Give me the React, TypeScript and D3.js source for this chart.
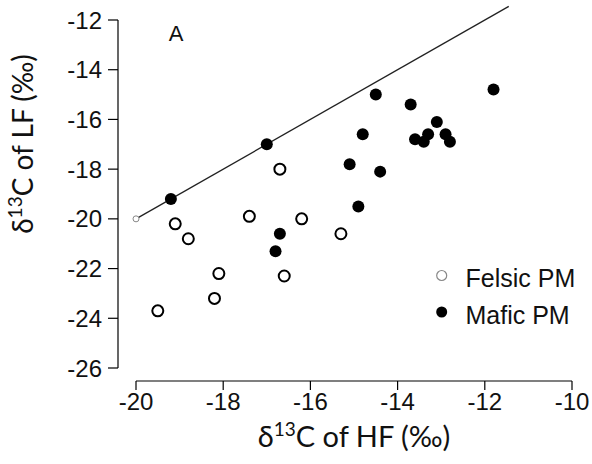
import React from "react";
import * as d3 from "d3";

const felsicHF = [-16.7, -19.1, -18.8, -17.4, -16.2, -15.3, -18.1, -18.2, -16.6, -19.5];
const felsicLF = [-18.0, -20.2, -20.8, -19.9, -20.0, -20.6, -22.2, -23.2, -22.3, -23.7];

const maficHF = [-19.2, -17.0, -14.5, -13.7, -11.8, -14.8, -13.1, -13.6, -13.3, -13.4, -12.9, -12.8, -15.1, -14.4, -14.9, -16.7, -16.8];
const maficLF = [-19.2, -17.0, -15.0, -15.4, -14.8, -16.6, -16.1, -16.8, -16.6, -16.9, -16.6, -16.9, -17.8, -18.1, -19.5, -20.6, -21.3];

const xTicks = [-20, -18, -16, -14, -12, -10];
const yTicks = [-12, -14, -16, -18, -20, -22, -24, -26];
const lineEnds = [-20, -11.45];
const legendLabels = ["Felsic PM", "Mafic PM"];

const W = 592;
const H = 464;

export default function App() {
  const x = d3.scaleLinear().domain([-20, -10]).range([136, 572]);
  const y = d3.scaleLinear().domain([-12, -26]).range([20, 368]);
  const axisY = 381;
  const axisX = 118;
  const tickFont = "'Liberation Sans', Arial, sans-serif";
  const labelFont = "Lato, 'Open Sans', sans-serif";
  const lineGen = d3.line<number>().x((d) => x(d)).y((d) => y(d));

  return (
    <svg width={W} height={H} style={{ position: "absolute", left: 0, top: 0, background: "#fff" }}>
      {/* y axis */}
      <line x1={axisX} x2={axisX} y1={y(-12)} y2={y(-26)} stroke="#000" strokeWidth={1.2} />
      {yTicks.map((t) => (
        <g key={"yt" + t}>
          <line x1={axisX - 10} x2={axisX} y1={y(t)} y2={y(t)} stroke="#000" strokeWidth={1.2} />
          <text x={102} y={y(t)} dy="0.36em" textAnchor="end" fontFamily={tickFont} fontSize={24} fill="#111">
            {t}
          </text>
        </g>
      ))}
      {/* x axis */}
      <line x1={x(-20)} x2={x(-10)} y1={axisY} y2={axisY} stroke="#000" strokeWidth={1.2} />
      {xTicks.map((t) => (
        <g key={"xt" + t}>
          <line x1={x(t)} x2={x(t)} y1={axisY} y2={axisY + 9} stroke="#000" strokeWidth={1.2} />
          <text x={x(t)} y={409.5} textAnchor="middle" fontFamily={tickFont} fontSize={24} fill="#111">
            {t}
          </text>
        </g>
      ))}
      {/* 1:1 line */}
      <path d={lineGen(lineEnds) || ""} stroke="#222" strokeWidth={1.3} fill="none" />
      <circle cx={x(-20)} cy={y(-20)} r={3} fill="#fff" stroke="#888" strokeWidth={1} />
      {/* felsic */}
      {felsicHF.map((v, i) => (
        <circle key={"f" + i} cx={x(v)} cy={y(felsicLF[i])} r={5.5} fill="#fff" stroke="#000" strokeWidth={2} />
      ))}
      {/* mafic */}
      {maficHF.map((v, i) => (
        <circle key={"m" + i} cx={x(v)} cy={y(maficLF[i])} r={6} fill="#000" />
      ))}
      {/* panel label */}
      <text x={176} y={41} textAnchor="middle" fontFamily={tickFont} fontSize={22} fill="#111">
        A
      </text>
      {/* legend */}
      <circle cx={441.7} cy={275.5} r={5} fill="#fff" stroke="#888" strokeWidth={1.2} />
      <text x={465.5} y={286.7} fontFamily={tickFont} fontSize={25} fill="#111">
        {legendLabels[0]}
      </text>
      <circle cx={441.7} cy={312} r={5.5} fill="#000" />
      <text x={465.5} y={324} fontFamily={tickFont} fontSize={25} fill="#111">
        {legendLabels[1]}
      </text>
      {/* axis titles */}
      <text x={354} y={447} textAnchor="middle" fontFamily={labelFont} fontSize={29} fill="#111">
        δ<tspan fontSize={19} dy={-11}>13</tspan>
        <tspan dy={11}>C of HF (‰)</tspan>
      </text>
      <text
        transform="translate(33,144) rotate(-90)"
        textAnchor="middle"
        fontFamily={labelFont}
        fontSize={28}
        fill="#111"
      >
        δ<tspan fontSize={19} dy={-11}>13</tspan>
        <tspan dy={11}>C of LF (‰)</tspan>
      </text>
    </svg>
  );
}
